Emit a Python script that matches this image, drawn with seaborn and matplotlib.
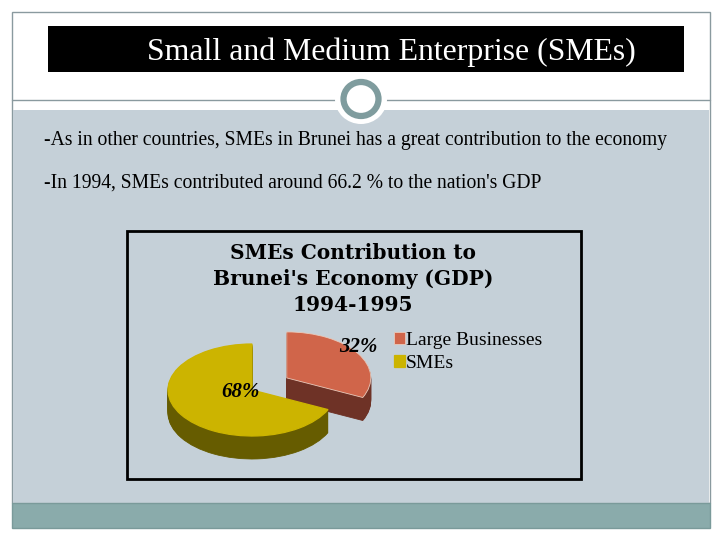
import seaborn as sns
import matplotlib
matplotlib.use("Agg")
import matplotlib.pyplot as plt
from matplotlib.patches import Rectangle, Ellipse

slide_title = "Small and Medium Enterprise (SMEs)"
bullets = ["-As in other countries, SMEs in Brunei has a great contribution to the economy",
           "-In 1994, SMEs contributed around 66.2 % to the nation's GDP"]
chart_title = "SMEs Contribution to\nBrunei's Economy (GDP)\n1994-1995"
sectors = ["Large Businesses", "SMEs"]
share = [32, 68]

top_colors = ["#d0654a", "#ccb400"]
wall_colors = ["#6e3226", "#665c00"]

sns.set_theme(style="white")
plt.rcParams["font.family"] = ["Liberation Serif", "DejaVu Serif"]

fig = plt.figure(figsize=(7.2, 5.4), dpi=100, facecolor="white")

# slide background, in pixels
bg = fig.add_axes([0, 0, 1, 1])
bg.set_xlim(0, 720)
bg.set_ylim(540, 0)
bg.axis("off")
edge = "#8a9a9f"
bg.add_patch(Rectangle((12, 12), 698, 491, fc="white", ec=edge, lw=1))
bg.add_patch(Rectangle((13, 110), 696, 393, fc="#c5d0d8", ec="none"))
bg.add_patch(Rectangle((12, 503), 698, 25, fc="#8aabab", ec="#7a9a9a", lw=1))
bg.add_patch(Rectangle((48, 26), 636, 46, fc="black", ec="none"))
bg.plot([12, 710], [100, 100], color=edge, lw=1)
bg.add_patch(Ellipse((361, 99), 52, 50, fc="white", ec="none", zorder=3))
bg.add_patch(Ellipse((361, 99), 35, 34, fc="white", ec="#7f9c9e", lw=4.5, zorder=4))
bg.text(147, 52, slide_title, color="white", fontsize=22.9, ha="left", va="center")
bg.text(44, 140, bullets[0], color="black", fontsize=14.1, ha="left", va="center")
bg.text(44, 183, bullets[1], color="black", fontsize=14.1, ha="left", va="center")
bg.add_patch(Rectangle((127, 231), 454, 248, fc="none", ec="black", lw=2))
bg.text(353, 279, chart_title, color="black", fontsize=14.5, fontweight="bold",
        ha="center", va="center", linespacing=1.38, family=["DejaVu Serif"])

# pie axes, one unit is the pie radius
left, right, top, bottom = 128, 580, 232, 478
cx, cy, rx, ry = 252, 390, 84, 46
ax = fig.add_axes([left / 720, 1 - bottom / 540, (right - left) / 720, (bottom - top) / 540])
ax.patch.set_alpha(0)

explode = [0.49, 0]
depth = 23


def wall(which, offset):
    colors = [wall_colors[i] if i == which else "none" for i in range(len(share))]
    parts = ax.pie(share, explode=explode, colors=colors, startangle=90, counterclock=False,
                   center=(0, -offset / ry), frame=True, wedgeprops={"linewidth": 0})
    parts[0][which].set_edgecolor(wall_colors[which])
    parts[0][which].set_linewidth(0.6)


for which in [0, 1]:
    for px in range(depth, 0, -1):
        wall(which, px)

wedges, _, pct = ax.pie(share, explode=explode, colors=top_colors, startangle=90, counterclock=False,
                        frame=True, autopct="%.0f%%", wedgeprops={"linewidth": 0})
wedges[0].set_edgecolor("#eac9ba")
wedges[0].set_linewidth(0.6)
wedges[1].set_edgecolor(top_colors[1])
wedges[1].set_linewidth(0.9)
pct[0].set_position(((358 - cx) / rx, (cy - 347) / ry))
pct[1].set_position(((240 - cx) / rx, (cy - 392) / ry))
for t in pct:
    t.set_fontsize(15)
    t.set_fontstyle("italic")
    t.set_fontweight("bold")
    t.set_color("black")

ax.set_aspect("auto")
ax.set_xlim((left - cx) / rx, (right - cx) / rx)
ax.set_ylim((cy - bottom) / ry, (cy - top) / ry)
ax.axis("off")

ax.legend(wedges, sectors, loc="upper left",
          bbox_to_anchor=((394 - left) / (right - left), 1 - (332 - top) / (bottom - top)),
          frameon=False, fontsize=14, labelcolor="black", handlelength=0.55, handleheight=0.6,
          handletextpad=0.05, labelspacing=0.3, borderpad=0, borderaxespad=0)

fig.savefig("out.png", dpi=100)
